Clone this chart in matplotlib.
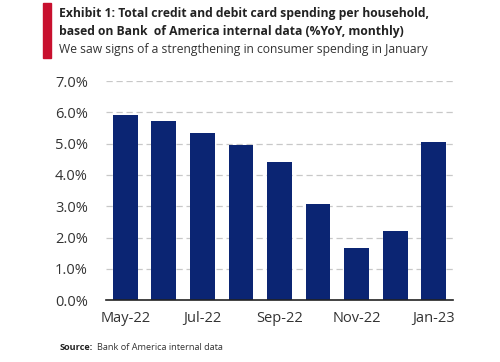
import matplotlib.pyplot as plt
from matplotlib.patches import Rectangle

# data
months = ["May-22", "Jun-22", "Jul-22", "Aug-22", "Sep-22", "Oct-22", "Nov-22", "Dec-22", "Jan-23"]
spending_yoy = [5.91, 5.71, 5.35, 4.97, 4.40, 3.07, 1.67, 2.20, 5.06]
y_ticks = [0, 1, 2, 3, 4, 5, 6, 7]

navy = "#0b2573"
text_col = "#333333"
font = "Open Sans"

fig = plt.figure(figsize=(5, 3.62), dpi=100)
ax = fig.add_axes([0.212, 0.171, 0.694, 0.605])

x = range(len(months))
ax.bar(x, spending_yoy, width=0.64, color=navy, zorder=3)

ax.set_xlim(-0.5, len(months) - 0.5)
ax.set_ylim(0, 7)
ax.set_yticks(y_ticks)
ax.set_yticklabels([f"{v:.1f}%" for v in y_ticks], fontname=font, fontsize=10.5, color=text_col)
ax.set_xticks(list(x)[::2])
ax.set_xticklabels(months[::2], fontname=font, fontsize=10.5, color=text_col)
ax.tick_params(length=0)
ax.tick_params(axis="y", pad=13)
ax.tick_params(axis="x", pad=8)

ax.grid(axis="y", color="#c8c8c8", linestyle=(0, (5, 3)), linewidth=0.9, zorder=0)
for s in ["top", "right", "left"]:
    ax.spines[s].set_visible(False)
ax.spines["bottom"].set_color("#222222")
ax.spines["bottom"].set_linewidth(1.2)
ax.spines["bottom"].set_zorder(4)

# red marker bar next to title
fig.patches.append(Rectangle((43 / 500, 1 - 58 / 362), 8 / 500, 55 / 362,
                             transform=fig.transFigure, color="#c8102e"))

fig.text(59 / 500, 1 - 14 / 362, "Exhibit 1: Total credit and debit card spending per household,",
         fontname=font, fontweight="bold", fontsize=8.7, color="#222222", va="center")
fig.text(59 / 500, 1 - 32 / 362, "based on Bank  of America internal data (%YoY, monthly)",
         fontname=font, fontweight="bold", fontsize=8.7, color="#222222", va="center")
fig.text(59 / 500, 1 - 50 / 362, "We saw signs of a strengthening in consumer spending in January",
         fontname=font, fontsize=8.7, color="#333333", va="center")

fig.text(60 / 500, 1 - 347 / 362, "Source:", fontname=font, fontweight="bold",
         fontsize=6.6, color="#222222", va="center")
fig.text(97 / 500, 1 - 347 / 362, "Bank of America internal data", fontname=font,
         fontsize=6.6, color="#333333", va="center")

fig.savefig("out.png", dpi=100)
